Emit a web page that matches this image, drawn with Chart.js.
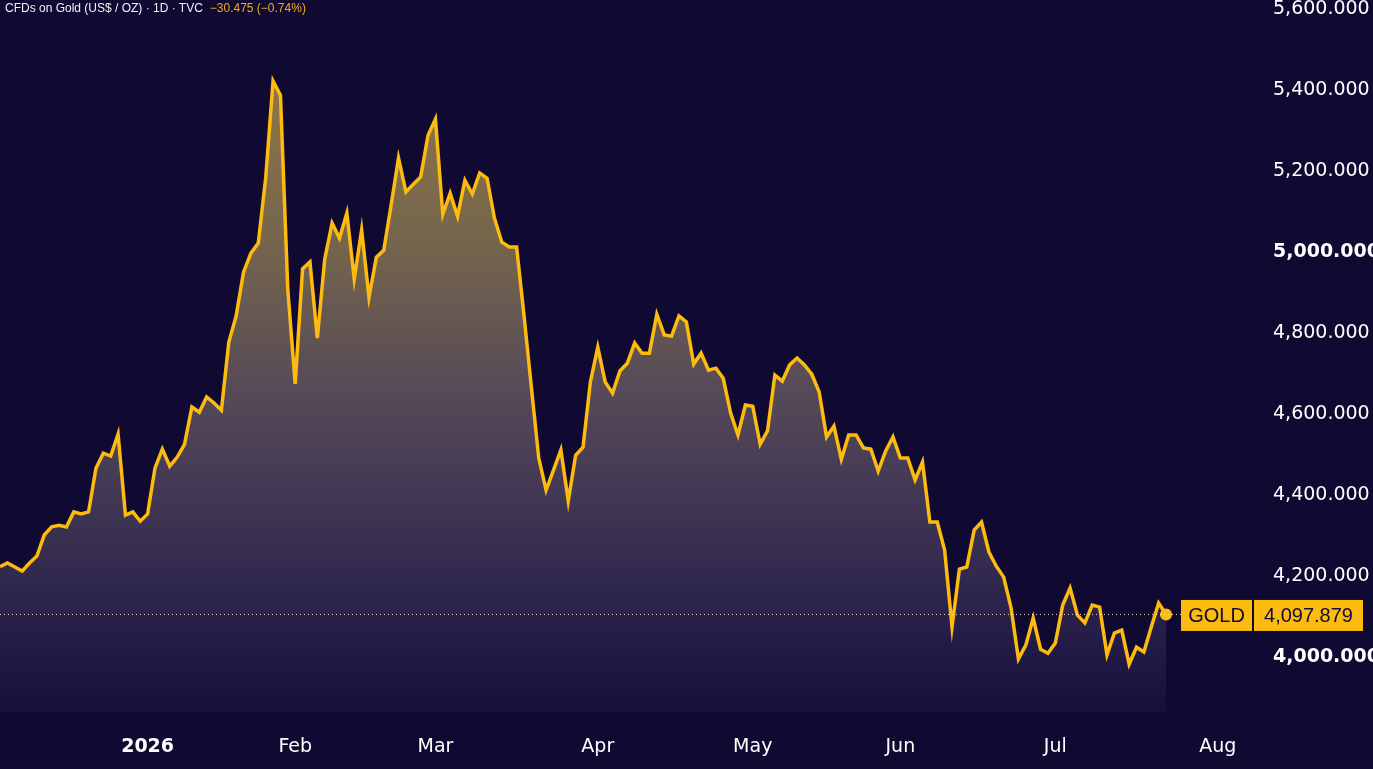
<!DOCTYPE html>
<html><head><meta charset="utf-8">
<script src="https://cdn.jsdelivr.net/npm/chart.js@4.4.1/dist/chart.umd.min.js"></script>
<style>
html,body{margin:0;padding:0;background:#100a33;overflow:hidden}
#wrap{position:relative;width:1373px;height:769px;background:#100a33}
#hdr{position:absolute;left:5px;top:1px;font:12px "Liberation Sans",Arial,sans-serif;color:#f0f0f5;white-space:pre;z-index:2}
#hdr .chg{color:#f4a81d;margin-left:7px}
</style></head><body>
<div id="wrap"><canvas id="c" width="1373" height="769"></canvas><div id="hdr">CFDs on Gold (US$ / OZ) · 1D · TVC<span class="chg">−30.475 (−0.74%)</span></div></div>
<script>
const symbol = 'GOLD';
const values = [4216,4225,4215,4205,4225,4242,4294,4314,4318,4314,
4351,4346,4351,4459,4496,4489,4543,4343,4351,4328,
4346,4459,4506,4464,4486,4518,4610,4597,4635,4620,
4602,4770,4835,4943,4990,5015,5175,5415,5380,4899,
4667,4951,4968,4780,4975,5064,5027,5089,4926,5047,
4881,4980,4997,5109,5225,5141,5160,5178,5281,5321,
5086,5138,5081,5170,5136,5188,5175,5076,5017,5005,
5005,4837,4659,4484,4405,4454,4504,4378,4491,4511,
4672,4758,4672,4644,4699,4718,4768,4743,4743,4839,
4788,4785,4835,4820,4716,4743,4701,4706,4681,4595,
4541,4615,4612,4518,4551,4689,4674,4714,4731,4714,
4691,4647,4536,4563,4481,4541,4541,4509,4506,4452,
4501,4536,4484,4484,4430,4474,4326,4326,4257,4067,
4210,4215,4306,4326,4252,4217,4190,4114,3988,4022,
4089,4012,4002,4027,4121,4163,4096,4077,4121,4116,
3998,4052,4059,3975,4017,4005,4067,4126,4097.879];
const monthTickIndex = [20,40,59,81,102,122,143,165];
const monthLabels = ['2026','Feb','Mar','Apr','May','Jun','Jul','Aug'];
const yTicks = [4000,4200,4400,4600,4800,5000,5200,5400,5600];
const yRange = [3857,5615];
const xRange = [0,168.7];

const GOLDC = '#fdbb0f';
const last = values[values.length-1];
const fmt = v => v.toLocaleString('en-US',{minimumFractionDigits:3,maximumFractionDigits:3});

const labelBox = {
  id:'labelBox',
  afterDraw(chart){
    const ctx = chart.ctx, y = chart.scales.y.getPixelForValue(last);
    ctx.save();
    ctx.fillStyle = GOLDC;
    ctx.fillRect(1181, y-14.5, 71, 31);
    ctx.fillRect(1254, y-14.5, 109, 31);
    ctx.fillStyle = '#120d30';
    ctx.font = '20px "Liberation Sans", Arial, sans-serif';
    ctx.textBaseline = 'middle';
    ctx.textAlign = 'center';
    ctx.fillText(symbol, 1216.5, y+2);
    ctx.fillText(fmt(last), 1308.5, y+2);
    ctx.restore();
  }
};

new Chart(document.getElementById('c'), {
  type:'line',
  data:{datasets:[
    {
      data: values.map((v,i)=>({x:i,y:v})),
      borderColor: GOLDC, borderWidth: 3.5, tension: 0,
      pointRadius: c => c.dataIndex === values.length-1 ? 6 : 0,
      pointBackgroundColor: GOLDC, pointBorderWidth: 0, pointHoverRadius: 0,
      fill: 'start', order: 1,
      backgroundColor: c => {
        const a = c.chart.chartArea; if(!a) return 'transparent';
        const g = c.chart.ctx.createLinearGradient(0,a.top,0,a.bottom);
        g.addColorStop(0.0,'#94794a');
        g.addColorStop(0.15,'#8a7349');
        g.addColorStop(0.35,'#74644c');
        g.addColorStop(0.55,'#564a58');
        g.addColorStop(0.75,'#3a3152');
        g.addColorStop(0.9,'#241c48');
        g.addColorStop(1,'#161039');
        return g;
      }
    },
    {
      data: [{x:0,y:last},{x:xRange[1],y:last}],
      borderColor:'rgba(255,240,190,0.9)', borderWidth:1, borderDash:[1,3],
      pointRadius:0, fill:false, order:0
    }
  ]},
  options:{
    responsive:false, devicePixelRatio:1, animation:false,
    layout:{padding:0, autoPadding:false},
    plugins:{legend:{display:false}, tooltip:{enabled:false}, filler:{drawTime:'beforeDatasetsDraw'}},
    scales:{
      x:{type:'linear', min:xRange[0], max:xRange[1],
        grid:{display:false}, border:{display:false},
        afterBuildTicks: s => { s.ticks = monthTickIndex.map(v=>({value:v})); },
        afterFit: s => { s.height = 57; s.paddingLeft=0; s.paddingRight=0; },
        ticks:{autoSkip:false, maxRotation:0, padding:16, color:'#ffffff',
          callback:(v,i)=>monthLabels[i],
          font: c => ({family:'"DejaVu Sans", sans-serif', size:19, weight: c.index===0 ? 'bold':'normal'})}
      },
      y:{type:'linear', position:'right', min:yRange[0], max:yRange[1],
        grid:{display:false}, border:{display:false},
        afterBuildTicks: s => { s.ticks = yTicks.map(v=>({value:v})); },
        afterFit: s => { s.width = 128; s.paddingTop=0; s.paddingBottom=0; },
        ticks:{padding:20, labelOffset:3, color:'#ffffff', callback: v => fmt(v),
          font: c => ({family:'"DejaVu Sans", sans-serif', size:19, weight: (c.tick && c.tick.value%1000===0) ? 'bold':'normal'})}
      }
    }
  },
  plugins:[labelBox]
});
</script>
</body></html>
